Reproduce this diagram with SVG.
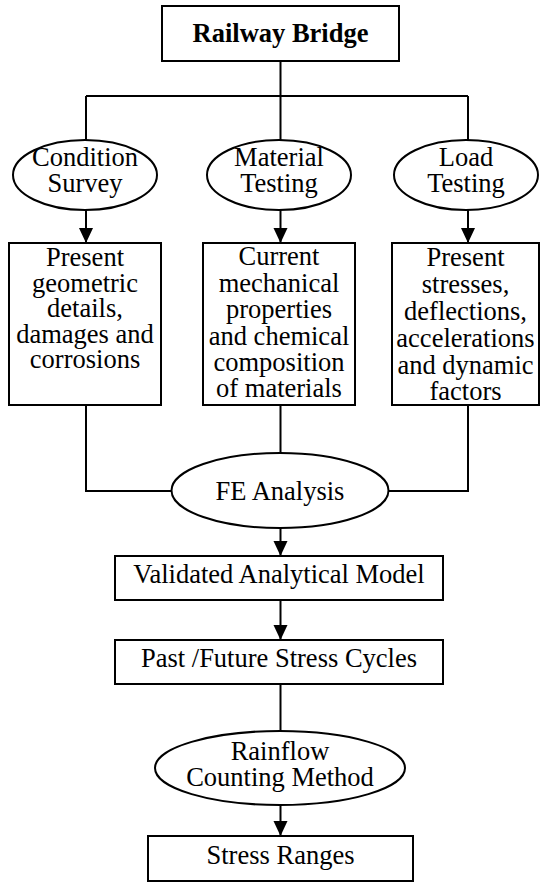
<svg xmlns="http://www.w3.org/2000/svg" width="540" height="883" viewBox="0 0 540 883">
<style>
.box{fill:#fff;stroke:#000;stroke-width:2}
.ell{fill:#fff;stroke:#000;stroke-width:2}
.ln{fill:none;stroke:#000;stroke-width:2}
.t text{font-size:26.5px;fill:#000;text-anchor:middle}
.b{font-weight:bold}
</style>
<defs>
<marker id="ah" markerUnits="userSpaceOnUse" markerWidth="14" markerHeight="16" refX="15" refY="7" orient="auto">
<path d="M0,0 L15,7 L0,14 Z" fill="#000"/>
</marker>
</defs>
<g id="connectors">
<path class="ln" d="M280.5,61 V96 M86,96 H468 M86,96 V140 M280.5,96 V140 M468,96 V140"/>
<line class="ln" x1="86" y1="210" x2="86" y2="243" marker-end="url(#ah)"/>
<line class="ln" x1="280.5" y1="210" x2="280.5" y2="243" marker-end="url(#ah)"/>
<line class="ln" x1="468" y1="210" x2="468" y2="243" marker-end="url(#ah)"/>
<path class="ln" d="M86,405 V491 H172 M280.5,405 V453 M468,405 V491 H388"/>
<line class="ln" x1="280.5" y1="528" x2="280.5" y2="556" marker-end="url(#ah)"/>
<line class="ln" x1="280.5" y1="600" x2="280.5" y2="640" marker-end="url(#ah)"/>
<line class="ln" x1="280.5" y1="684" x2="280.5" y2="731"/>
<line class="ln" x1="280.5" y1="805" x2="280.5" y2="836" marker-end="url(#ah)"/>
</g>
<g class="t" font-family="Liberation Serif, Times New Roman, serif">
<g id="railway-bridge">
<rect class="box" x="162" y="6" width="237" height="55"/>
<text class="b" x="280.5" y="42">Railway Bridge</text>
</g>
<g id="condition-survey">
<ellipse class="ell" cx="85" cy="175" rx="72" ry="35"/>
<text x="85" y="166">Condition</text>
<text x="85" y="192">Survey</text>
</g>
<g id="material-testing">
<ellipse class="ell" cx="279" cy="175" rx="72" ry="35"/>
<text x="279" y="166">Material</text>
<text x="279" y="192">Testing</text>
</g>
<g id="load-testing">
<ellipse class="ell" cx="466" cy="175" rx="72" ry="35"/>
<text x="466" y="166">Load</text>
<text x="466" y="192">Testing</text>
</g>
<g id="geometric-box">
<rect class="box" x="9" y="243" width="152" height="162"/>
<text x="85" y="266">Present</text>
<text x="85" y="291.5">geometric</text>
<text x="85" y="317">details,</text>
<text x="85" y="342.5">damages and</text>
<text x="85" y="368">corrosions</text>
</g>
<g id="material-box">
<rect class="box" x="203" y="243" width="152" height="162"/>
<text x="279" y="265">Current</text>
<text x="279" y="291.5">mechanical</text>
<text x="279" y="318">properties</text>
<text x="279" y="344.5">and chemical</text>
<text x="279" y="371">composition</text>
<text x="279" y="397">of materials</text>
</g>
<g id="load-box">
<rect class="box" x="392" y="243" width="147" height="162"/>
<text x="465.5" y="266">Present</text>
<text x="465.5" y="293">stresses,</text>
<text x="465.5" y="320">deflections,</text>
<text x="465.5" y="347">accelerations</text>
<text x="465.5" y="374">and dynamic</text>
<text x="465.5" y="400">factors</text>
</g>
<g id="fe-analysis">
<ellipse class="ell" cx="280" cy="490.5" rx="108.5" ry="37.5"/>
<text x="280" y="500">FE Analysis</text>
</g>
<g id="validated-model">
<rect class="box" x="115" y="556" width="328" height="44"/>
<text x="279" y="583">Validated Analytical Model</text>
</g>
<g id="stress-cycles">
<rect class="box" x="115" y="640" width="328" height="44"/>
<text x="279" y="667">Past /Future Stress Cycles</text>
</g>
<g id="rainflow">
<ellipse class="ell" cx="280" cy="768" rx="125" ry="37"/>
<text x="280" y="760">Rainflow</text>
<text x="280" y="786">Counting Method</text>
</g>
<g id="stress-ranges">
<rect class="box" x="148" y="836" width="265" height="45"/>
<text x="280.5" y="864">Stress Ranges</text>
</g>
</g>
</svg>
